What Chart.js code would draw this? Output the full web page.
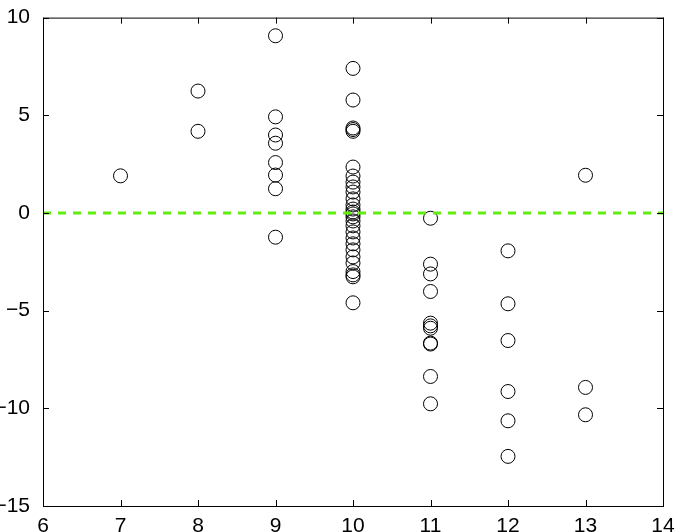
<!DOCTYPE html>
<html>
<head>
<meta charset="utf-8">
<script src="https://cdn.jsdelivr.net/npm/chart.js@4/dist/chart.umd.min.js"></script>
<style>
  html, body { margin: 0; padding: 0; background: #fff; }
  #wrap { width: 681px; height: 532px; position: relative; }
</style>
</head>
<body>
<div id="wrap"><canvas id="chart" width="681" height="532"></canvas></div>
<script>
// ── Data ──────────────────────────────────────────────────────
const xTicks = [6, 7, 8, 9, 10, 11, 12, 13, 14];
const yTicks = [-15, -10, -5, 0, 5, 10];

const col7  = [1.9];
const col8  = [6.24, 4.18];
const col9  = [9.07, 4.92, 3.99, 3.57, 2.58, 1.94, 1.24, -1.24];
const col10 = [7.4, 5.78, 4.35, 4.27, 4.18, 2.35, 1.89, 1.58, 1.33, 1.07, 0.72,
               0.41, 0.2, 0.05, -0.05, -0.2, -0.41, -0.66, -0.97, -1.28, -1.58,
               -1.89, -2.25, -2.56, -3.0, -3.17, -3.27, -4.6];
const col11 = [-0.27, -2.62, -3.12, -4.02, -5.64, -5.78, -5.9, -6.66, -6.71, -8.37, -9.77];
const col12 = [-1.94, -4.65, -6.53, -9.14, -10.64, -12.46];
const col13 = [1.93, -8.93, -10.33];

const columns   = { 7: col7, 8: col8, 9: col9, 10: col10, 11: col11, 12: col12, 13: col13 };
const zeroLineX = [6, 14];

const points = [];
Object.keys(columns).forEach(k => {
  columns[k].forEach(v => points.push({ x: Number(k), y: v }));
});

const FONT = { family: '"Liberation Sans", Arial, Helvetica, sans-serif', size: 21 };
const minus = v => String(v).replace('-', '\u2212');

// ── Box + inward ticks, MATLAB style ──────────────────────────
const boxPlugin = {
  id: 'box',
  afterDraw(chart) {
    const { ctx, chartArea: a, scales } = chart;
    ctx.save();
    ctx.strokeStyle = '#000';
    ctx.lineWidth = 1;
    ctx.strokeRect(a.left + 0.5, a.top + 0.5, a.right - a.left, a.bottom - a.top);
    ctx.beginPath();
    xTicks.forEach(t => {
      const px = Math.round(scales.x.getPixelForValue(t)) + 0.5;
      ctx.moveTo(px, a.bottom); ctx.lineTo(px, a.bottom - 6);
      ctx.moveTo(px, a.top);    ctx.lineTo(px, a.top + 6);
    });
    yTicks.forEach(t => {
      const py = Math.round(scales.y.getPixelForValue(t)) + 0.5;
      ctx.moveTo(a.left, py);  ctx.lineTo(a.left + 6, py);
      ctx.moveTo(a.right, py); ctx.lineTo(a.right - 6, py);
    });
    ctx.stroke();
    ctx.restore();
  }
};

new Chart(document.getElementById('chart').getContext('2d'), {
  type: 'scatter',
  data: {
    datasets: [
      {
        type: 'line',
        data: zeroLineX.map(x => ({ x, y: 0 })),
        borderColor: '#60ee10',
        borderWidth: 3,
        borderDash: [8, 7],
        pointRadius: 0,
        fill: false,
        order: 0,
      },
      {
        data: points,
        pointStyle: 'circle',
        pointRadius: 7,
        pointBorderWidth: 1,
        pointBorderColor: '#000',
        pointBackgroundColor: 'rgba(0,0,0,0)',
        order: 1,
      },
    ],
  },
  options: {
    responsive: false,
    animation: false,
    layout: { padding: { top: 17, right: 18, left: 0, bottom: 0 } },
    plugins: { legend: { display: false }, tooltip: { enabled: false } },
    scales: {
      x: {
        type: 'linear', min: 6, max: 14,
        afterBuildTicks: s => { s.ticks = xTicks.map(v => ({ value: v })); },
        afterFit: s => { s.height = 26; },
        grid: { display: false },
        border: { display: false },
        ticks: { color: '#000', font: FONT, padding: 0, maxRotation: 0, autoSkip: false,
                 callback: v => minus(v) },
      },
      y: {
        type: 'linear', min: -15, max: 10,
        afterBuildTicks: s => { s.ticks = yTicks.map(v => ({ value: v })); },
        afterFit: s => { s.width = 43; },
        grid: { display: false },
        border: { display: false },
        ticks: { color: '#000', font: FONT, padding: 5, autoSkip: false,
                 callback: v => minus(v) },
      },
    },
  },
  plugins: [boxPlugin],
});
</script>
</body>
</html>
